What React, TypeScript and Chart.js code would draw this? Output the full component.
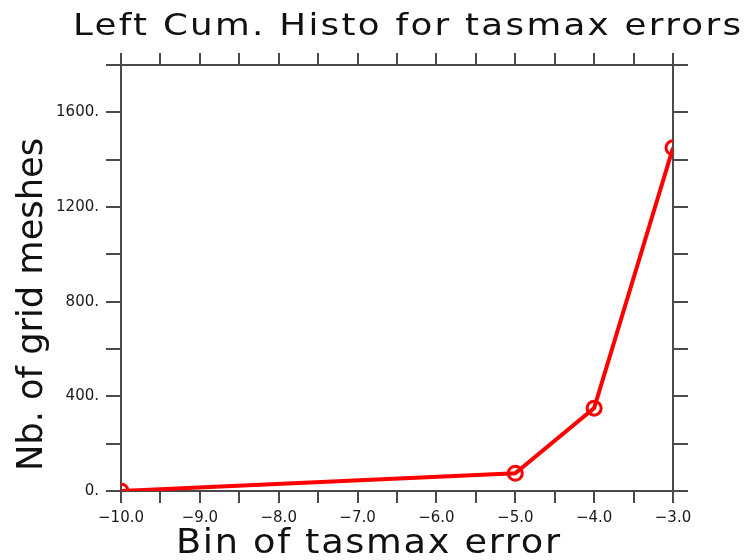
import React, { useEffect, useRef } from "react";
import { Chart, registerables } from "chart.js";

Chart.register(...registerables);

const chartTitle = "Left Cum. Histo for tasmax errors";
const xAxisTitle = "Bin of tasmax error";
const yAxisTitle = "Nb. of grid meshes";

const binValues = [-10, -5, -4, -3];
const cumCounts = [0, 75, 350, 1450];

const xMin = -10;
const xMax = -3;
const xMinorStep = 0.5;
const yMin = 0;
const yMax = 1800;
const yMinorStep = 200;
const yLabelStep = 400;

const TICK_FONT = { family: "'DejaVu Sans', sans-serif", size: 15 };
const AXIS_COLOR = "#4a4a4a";

function fmtX(v: number): string {
  if (Math.abs(v - Math.round(v)) > 1e-6) return "";
  const s = Math.abs(v).toFixed(1);
  return v < 0 ? "\u2212" + s : s;
}
function fmtY(v: number): string {
  return Math.round(v) % yLabelStep === 0 ? Math.round(v) + "." : "";
}

function drawFitted(
  ctx: CanvasRenderingContext2D,
  text: string,
  x: number,
  y: number,
  width: number,
  font: string,
  angle: number,
  spacing: number
) {
  ctx.save();
  ctx.font = font;
  (ctx as any).letterSpacing = spacing + "px";
  const w = ctx.measureText(text).width - spacing;
  const sx = width / w;
  ctx.translate(x, y);
  ctx.rotate(angle);
  ctx.scale(sx, 1);
  ctx.textAlign = "left";
  ctx.textBaseline = "alphabetic";
  ctx.fillStyle = "#111";
  ctx.fillText(text, 0, 0);
  ctx.restore();
}

const titlePlugin = {
  id: "nclTitles",
  afterDraw(chart: any) {
    const ctx = chart.ctx as CanvasRenderingContext2D;
    drawFitted(ctx, chartTitle, 73, 35, 668, "31px 'DejaVu Sans', sans-serif", 0, 2);
    drawFitted(ctx, xAxisTitle, 176, 553, 384, "33px 'DejaVu Sans', sans-serif", 0, 1.5);
    drawFitted(ctx, yAxisTitle, 42, 471, 333, "35px 'DejaVu Sans', sans-serif", -Math.PI / 2, 0);
  },
};

function axisBase(tickLength: number) {
  return {
    grid: {
      drawOnChartArea: false,
      drawTicks: true,
      tickLength,
      tickColor: AXIS_COLOR,
      lineWidth: 2,
    },
    border: { display: true, color: AXIS_COLOR, width: 2 },
  };
}

export default function App() {
  const ref = useRef<HTMLCanvasElement | null>(null);

  useEffect(() => {
    if (!ref.current) return;
    const chart = new Chart(ref.current, {
      type: "line",
      data: {
        datasets: [
          {
            data: binValues.map((x, i) => ({ x, y: cumCounts[i] })),
            borderColor: "#ff0000",
            borderWidth: 4,
            pointStyle: "circle",
            pointRadius: 7,
            pointBorderWidth: 3,
            pointBorderColor: "#ff0000",
            pointBackgroundColor: "rgba(0,0,0,0)",
            tension: 0,
            clip: 0,
          } as any,
        ],
      },
      options: {
        responsive: false,
        animation: false,
        events: [],
        layout: { padding: 0 },
        plugins: {
          legend: { display: false },
          title: { display: false },
          tooltip: { enabled: false },
        },
        scales: {
          x: {
            type: "linear",
            position: "bottom",
            min: xMin,
            max: xMax,
            ...axisBase(12),
            ticks: {
              stepSize: xMinorStep,
              autoSkip: false,
              maxRotation: 0,
              padding: 6,
              color: "#1a1a1a",
              font: TICK_FONT,
              callback: (v: any) => fmtX(Number(v)),
            },
            afterFit: (s: any) => {
              s.height = 69;
            },
          },
          xTop: {
            type: "linear",
            position: "top",
            min: xMin,
            max: xMax,
            ...axisBase(12),
            ticks: { stepSize: xMinorStep, autoSkip: false, display: false },
            afterFit: (s: any) => {
              s.height = 65;
            },
          },
          y: {
            type: "linear",
            position: "left",
            min: yMin,
            max: yMax,
            ...axisBase(15),
            ticks: {
              stepSize: yMinorStep,
              autoSkip: false,
              padding: 7,
              color: "#1a1a1a",
              font: TICK_FONT,
              callback: (v: any) => fmtY(Number(v)),
            },
            afterFit: (s: any) => {
              s.width = 121;
            },
          },
          yRight: {
            type: "linear",
            position: "right",
            min: yMin,
            max: yMax,
            ...axisBase(15),
            ticks: { stepSize: yMinorStep, autoSkip: false, display: false },
            afterFit: (s: any) => {
              s.width = 76;
            },
          },
        } as any,
      },
      plugins: [titlePlugin],
    });
    return () => chart.destroy();
  }, []);

  return (
    <div
      style={{
        position: "fixed",
        left: 0,
        top: 0,
        width: 749,
        height: 560,
        background: "#fff",
      }}
    >
      <canvas ref={ref} width={749} height={560} style={{ display: "block" }} />
    </div>
  );
}
